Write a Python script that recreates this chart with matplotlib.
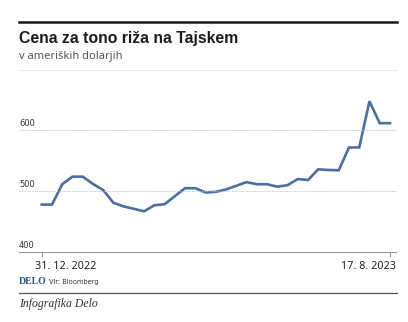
import matplotlib
matplotlib.use("Agg")
import matplotlib.pyplot as plt
from matplotlib.lines import Line2D

# cena riza, tedensko, USD/t
cene = [478, 478, 511.5, 524, 524, 512, 502, 481, 475, 471, 467, 477,
        478.6, 492, 505, 505, 498, 499, 503, 509, 515, 511.5, 511.5,
        507.5, 510, 520, 518.5, 536, 535, 534.5, 572, 572, 648, 612, 612]
y_ticks = [400, 500, 600]
x_labels = ["31. 12. 2022", "17. 8. 2023"]

W, H = 408, 322
fig = plt.figure(figsize=(W / 100, H / 100), dpi=100)
fig.patch.set_facecolor("white")

def px(x, y):
    return x / W, 1 - y / H

# axes od x=19 do 396, y=94 do 252
ax = fig.add_axes([19 / W, 1 - 252 / H, (396 - 19) / W, (252 - 94) / H])
n = len(cene)
ax.plot(range(n), cene, color="#4a6fa5", lw=1.9, solid_joinstyle="miter")
ax.set_xlim(-2.22, n - 1 + 0.59)
ax.set_ylim(400, 660)
for s in ax.spines.values():
    s.set_visible(False)
ax.set_xticks([])
ax.set_yticks([])
for v in y_ticks[1:]:
    ax.axhline(v, color="#bbbbbb", lw=0.6, ls=(0, (1.5, 1.5)))
for v in y_ticks:
    ax.text(0, v + 4, str(v), transform=ax.get_yaxis_transform(),
            fontsize=6, color="#333333", family="DejaVu Sans",
            va="bottom", ha="left")
ax.axhline(400, color="#999999", lw=0.8, clip_on=False)

# tick marks
for i in (0, n - 1):
    ax.plot([i, i], [400, 393], color="#999999", lw=0.8, clip_on=False)

ax.text(-0.65, 386, x_labels[0], ha="left", va="top", fontsize=7.8,
        color="#222222", family="Noto Sans")
ax.text(n - 1 + 0.59, 386, x_labels[1], ha="right", va="top", fontsize=7.8,
        color="#222222", family="Noto Sans")

# glava
fig.add_artist(Line2D([19 / W, 397 / W], [1 - 21.7 / H] * 2, color="#1a1a1a", lw=1.8))
fig.text(*px(19, 39), "Cena za tono riža na Tajskem", fontsize=11.3,
         fontweight="bold", family="Liberation Sans", color="#1a1a1a", va="center")
fig.text(*px(19, 56), "v ameriških dolarjih", fontsize=8,
         family="Noto Sans", color="#555555", va="center")
fig.add_artist(Line2D([19 / W, 397 / W], [1 - 70 / H] * 2, color="#cccccc",
                      lw=0.6, ls=(0, (1, 1))))

# noga
fig.text(*px(19, 282), "DELO", fontsize=7, fontweight="bold",
         family="Liberation Serif", color="#2a4f8a", va="center")
fig.text(*px(49, 282), "Vir: Bloomberg", fontsize=4.8,
         family="DejaVu Sans", color="#333333", va="center")
fig.add_artist(Line2D([19 / W, 397 / W], [1 - 293 / H] * 2, color="#555555", lw=0.9))
fig.text(*px(19, 304), "Infografika Delo", fontsize=8.5, style="italic",
         family="Liberation Serif", color="#333333", va="center")

fig.savefig("out.png", dpi=100)
